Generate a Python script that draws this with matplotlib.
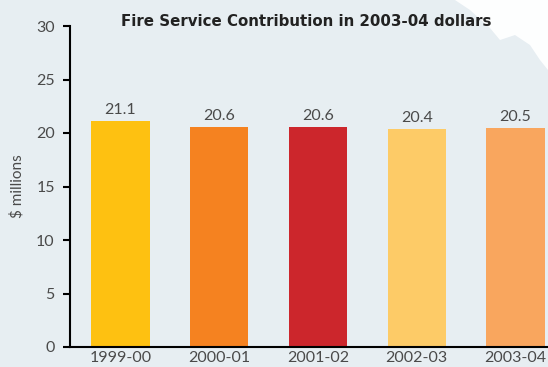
import matplotlib
matplotlib.use("Agg")
import matplotlib.pyplot as plt
from matplotlib.patches import Polygon

categories = ["1999-00", "2000-01", "2001-02", "2002-03", "2003-04"]
values = [21.1, 20.6, 20.6, 20.4, 20.5]
labels = ["21.1", "20.6", "20.6", "20.4", "20.5"]
colors = ["#fec111", "#f58220", "#cc262c", "#fdcb67", "#f9a65e"]
yticks = [0, 5, 10, 15, 20, 25, 30]

bg = "#e7eef2"
txt = "#4a4a4a"
fig = plt.figure(figsize=(5.48, 3.67), dpi=100, facecolor=bg)

# decorative white brush stroke top right (pixel coords -> figure fraction)
pts = [(455, 0), (470, 10), (490, 28), (500, 40), (515, 35), (530, 45), (540, 60),
       (548, 70), (548, 0)]
fig.patches.append(Polygon([(px / 548, 1 - py / 367) for px, py in pts],
                           closed=True, transform=fig.transFigure, facecolor="white",
                           edgecolor="none", alpha=0.95, zorder=0))

ax = fig.add_axes([70/548, 20/367, 478/548, 321/367])
ax.set_facecolor("none")
x = list(range(len(categories)))
ax.bar(x, values, width=0.59, color=colors, zorder=2)
for xi, v, lab in zip(x, values, labels):
    ax.text(xi, v + 0.35, lab, ha="center", va="bottom", fontsize=11.5,
            color=txt, family="Lato")

ax.set_xlim(-0.51, 4.33)
ax.set_ylim(0, 30)
ax.set_yticks(yticks)
ax.set_xticks(x)
ax.set_xticklabels(categories)
for s in ["top", "right"]:
    ax.spines[s].set_visible(False)
ax.spines["left"].set_linewidth(1.5)
ax.spines["bottom"].set_linewidth(1.5)
ax.tick_params(axis="y", length=5, width=1.5, labelsize=11.5, labelcolor=txt, pad=6)
ax.tick_params(axis="x", length=0, labelsize=11.5, labelcolor=txt, pad=3)
for t in ax.get_xticklabels() + ax.get_yticklabels():
    t.set_family("Lato")

ax.set_ylabel("$ millions", fontsize=11, color=txt, family="Lato")
ax.yaxis.set_label_coords(-0.096, 0.5)

fig.text(306/548, 1 - 22/367, "Fire Service Contribution in 2003-04 dollars",
         ha="center", va="center", fontsize=10.8, fontweight="bold", color="#222222",
         family="DejaVu Sans")

fig.savefig("out.png", dpi=100, facecolor=bg)
